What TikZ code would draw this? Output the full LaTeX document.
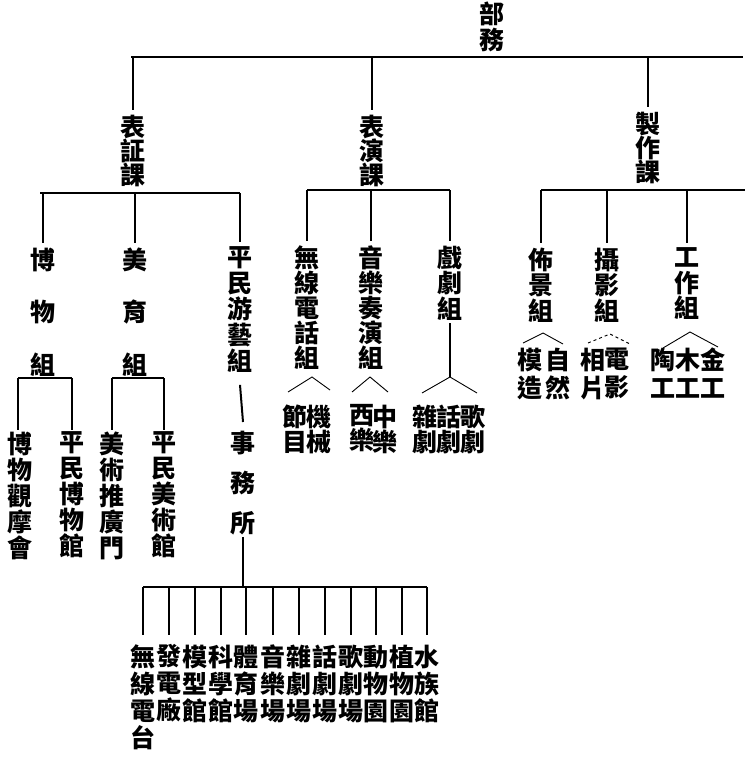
\documentclass[tikz,border=0pt]{standalone}
\usepackage{fontspec}
\newfontfamily\cjk{Noto Sans CJK TC}
\lineskiplimit=-100pt
\lineskip=0pt
\begin{document}
\lineskiplimit=-100pt
\begin{tikzpicture}[x=1pt,y=-1pt,
  vcol/.style={anchor=north, align=center, inner sep=0pt, font=\cjk\bfseries\fontsize{25}{#1}\selectfont},
  vcol/.default=26,
  mainln/.style={line width=2.6pt},
  ln/.style={line width=2pt},
  thinln/.style={line width=0.9pt}]
\fill[white] (0,0) rectangle (745,757);
\useasboundingbox (0,0) rectangle (745,757);

% top
\node[vcol=26] (bu) at (492,1.5) {部\\務};
\coordinate (bL) at (131,57);
\coordinate (bR) at (743,57);
\draw[mainln] (bL) -- (bR);

% level 2
\node[vcol=24] (k1) at (133,114.5) {表\\証\\課};
\node[vcol=24] (k2) at (372,114.5) {表\\演\\課};
\node[vcol=24] (k3) at (648,111.5) {製\\作\\課};
\foreach \k in {k1,k2,k3}
  \draw[ln] (\k.north |- bL) -- ([yshift=4.5pt]\k.north);

% level 3
\node[vcol=52.5] (g1) at (43,247.5) {博\\物\\組};
\node[vcol=52.5] (g2) at (135,247.5) {美\\育\\組};
\node[vcol=26] (g3) at (240,246.5) {平\\民\\游\\藝\\組};
\node[vcol=25] (g4) at (307,245.5) {無\\線\\電\\話\\組};
\node[vcol=25] (g5) at (371,245.5) {音\\樂\\奏\\演\\組};
\node[vcol=25.5] (g6) at (450,245.5) {戲\\劇\\組};
\node[vcol=25.5] (g7) at (541,247.5) {佈\\景\\組};
\node[vcol=25.5] (g8) at (607,247.5) {攝\\影\\組};
\node[vcol=25.5] (g9) at (687,247.5) {工\\作\\組};

\coordinate (c1L) at (40,193);
\coordinate (c1R) at (240,193);
\draw[ln] (c1L) -- (c1R);
\foreach \g in {g1,g2,g3}
  \draw[ln] (\g.north |- c1L) -- ([yshift=4.5pt]\g.north);
\coordinate (c2L) at (307,190);
\coordinate (c2R) at (450,190);
\draw[ln] (c2L) -- (c2R);
\foreach \g in {g4,g5,g6}
  \draw[ln] (\g.north |- c2L) -- ([yshift=4.5pt]\g.north);
\coordinate (c3L) at (541,190);
\coordinate (c3R) at (745,190);
\draw[ln] (c3L) -- (c3R);
\foreach \g in {g7,g8,g9}
  \draw[ln] (\g.north |- c3L) -- ([yshift=4.5pt]\g.north);

% left leaves
\node[vcol=26] (l1) at (20,431.5) {博\\物\\觀\\摩\\會};
\node[vcol=26] (l2) at (72,431.5) {平\\民\\博\\物\\館};
\node[vcol=26] (l3) at (112,431.5) {美\\術\\推\\廣\\門};
\node[vcol=26] (l4) at (164,431.5) {平\\民\\美\\術\\館};
\coordinate (e1L) at (18,378);
\coordinate (e1R) at (72,378);
\draw[ln] (e1L) -- (e1R);
\draw[ln] (e1L) -- ([xshift=-2pt,yshift=1.5pt]l1.north);
\draw[ln] (l2.north |- e1L) -- ([yshift=1.5pt]l2.north);
\coordinate (e2L) at (112,378);
\coordinate (e2R) at (164,378);
\draw[ln] (e2L) -- (e2R);
\draw[ln] (l3.north |- e2L) -- ([yshift=1.5pt]l3.north);
\draw[ln] (l4.north |- e2L) -- ([yshift=1.5pt]l4.north);

% 事務所
\node[vcol=40] (s1) at (243,430.5) {事\\務\\所};
\draw[ln] ([yshift=-12pt]g3.south) -- ([yshift=8.5pt]s1.north);
\coordinate (fL) at (143,587);
\coordinate (fR) at (427,587);
\draw[ln] ([yshift=-2pt]s1.south) -- (s1.south |- fL);
\draw[ln] (fL) -- (fR);

% bottom leaves
\node[vcol=27] (t1) at (143,644.5) {無\\線\\電\\台};
\node[vcol=27] (t2) at (169,644.5) {發\\電\\廠};
\node[vcol=27] (t3) at (195,644.5) {模\\型\\館};
\node[vcol=27] (t4) at (221,644.5) {科\\學\\館};
\node[vcol=27] (t5) at (246,644.5) {體\\育\\場};
\node[vcol=27] (t6) at (273,644.5) {音\\樂\\場};
\node[vcol=27] (t7) at (299,644.5) {雜\\劇\\場};
\node[vcol=27] (t8) at (325,644.5) {話\\劇\\場};
\node[vcol=27] (t9) at (351,644.5) {歌\\劇\\場};
\node[vcol=27] (t10) at (376,644.5) {動\\物\\園};
\node[vcol=27] (t11) at (402,644.5) {植\\物\\園};
\node[vcol=27] (t12) at (427,644.5) {水\\族\\館};
\foreach \t in {t1,t2,t3,t4,t5,t6,t7,t8,t9,t10,t11,t12}
  \draw[ln] (\t.north |- fL) -- ([yshift=9.5pt]\t.north);

% middle leaves
\node[vcol=25] (m1) at (295,404.5) {節\\目};
\node[vcol=25] (m2) at (319,404.5) {機\\械};
\node[vcol=25] (m3) at (362,404.5) {西\\樂};
\node[vcol=25] (m4) at (385,404.5) {中\\樂};
\node[vcol=25] (m5) at (425,404.5) {雜\\劇};
\node[vcol=25] (m6) at (449,404.5) {話\\劇};
\node[vcol=25] (m7) at (473,404.5) {歌\\劇};

\coordinate (a4) at (312,377);
\coordinate (a4L) at (288,392);
\coordinate (a4R) at (330,390);
\draw[thinln] (a4L) -- (a4) -- (a4R);
\coordinate (a5) at (370,377);
\coordinate (a5L) at (352,392);
\coordinate (a5R) at (388,392);
\draw[thinln] (a5L) -- (a5) -- (a5R);
\coordinate (a6) at (450,377);
\coordinate (a6L) at (422,393);
\coordinate (a6R) at (477,393);
\draw[ln] ([yshift=-3pt]g6.south) -- (a6);
\draw[thinln] (a6L) -- (a6) -- (a6R);

% right leaves
\node[vcol=28] (r1) at (530,347.5) {模\\造};
\node[vcol=28] (r2) at (558,347.5) {自\\然};
\node[vcol=28] (r3) at (593,347.5) {相\\片};
\node[vcol=28] (r4) at (617,347.5) {電\\影};
\node[vcol=28] (r5) at (663,347.5) {陶\\工};
\node[vcol=28] (r6) at (688,347.5) {木\\工};
\node[vcol=28] (r7) at (713,347.5) {金\\工};

\coordinate (a7) at (543,333);
\coordinate (a7L) at (523,343);
\coordinate (a7R) at (563,344);
\draw[thinln] (a7L) -- (a7) -- (a7R);
\coordinate (a8) at (610,334);
\coordinate (a8L) at (588,343);
\coordinate (a8R) at (630,344);
\draw[thinln,dashed] (a8L) -- (a8) -- (a8R);
\coordinate (a9) at (690,332);
\coordinate (a9L) at (663,348);
\coordinate (a9R) at (718,347);
\draw[thinln] (a9L) -- (a9) -- (a9R);
\end{tikzpicture}
\end{document}
